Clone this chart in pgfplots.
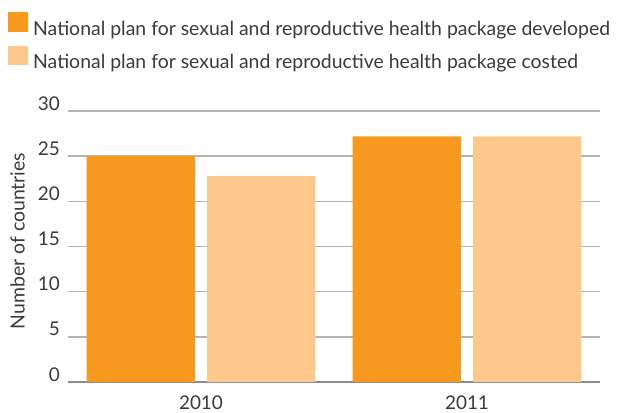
\documentclass[border=0pt]{standalone}
\usepackage{fontspec}
\setmainfont{Lato}
\usepackage{pgfplots}
\pgfplotsset{compat=1.18}
\definecolor{devorange}{HTML}{F7981F}
\definecolor{costorange}{HTML}{FDC88B}
\definecolor{gridgray}{HTML}{B4B4B4}
\definecolor{axisgray}{HTML}{8C8C8C}
\definecolor{txt}{HTML}{3A3A3A}
\pgfplotsset{sqleg/.style={legend image code/.code={\fill[##1] (0bp,-3bp) rectangle (20bp,16.5bp);}}}
\begin{document}
\begin{tikzpicture}
\begin{axis}[
  name=ax,
  scale only axis, width=532bp, height=271bp,
  xmin=-0.5, xmax=1.5, ymin=0, ymax=30,
  ytick={0,5,...,30},
  xtick={0,1}, xticklabels={2010,2011},
  /pgf/number format/assume math mode=true,
  ybar, bar width=0.4075,
  axis x line*=bottom, axis y line*=left,
  x axis line style={axisgray, line width=2bp},
  y axis line style={draw=none},
  major tick length=0pt,
  ymajorgrids, grid style={gridgray, line width=1.5bp},
  tick label style={font=\fontsize{19}{22}\selectfont, text=txt, inner sep=0pt},
  yticklabel style={anchor=base east, xshift=-8bp, yshift=1bp},
  xticklabel style={anchor=base, yshift=-27bp},
  ylabel={Number of countries},
  ylabel style={at={(rel axis cs:-0.0949,0.52)}, anchor=center, font=\fontsize{19.5}{22}\selectfont, text=txt},
  legend style={at={(rel axis cs:-0.1128,1.3653)}, anchor=north west, draw=none, fill=none,
    font=\fontsize{19.5}{22}\selectfont, text=txt, inner sep=0pt,
    nodes={inner sep=0pt}, row sep=9bp,
    /tikz/every odd column/.append style={column sep=5bp}},
  legend cell align=left,
]
\addplot[fill=devorange, draw=none, bar shift=-0.2264, sqleg] coordinates {(0,25) (1,27.2)};
\addlegendentry{National plan for sexual and reproductive health package developed}
\addplot[fill=costorange, draw=none, bar shift=0.2264, sqleg] coordinates {(0,22.8) (1,27.2)};
\addlegendentry{National plan for sexual and reproductive health package costed}
\end{axis}
\pgfresetboundingbox
\path[use as bounding box] ([shift={(-68bp,-31bp)}]ax.south west) rectangle ([shift={(18bp,111bp)}]ax.north east);
\end{tikzpicture}
\end{document}
